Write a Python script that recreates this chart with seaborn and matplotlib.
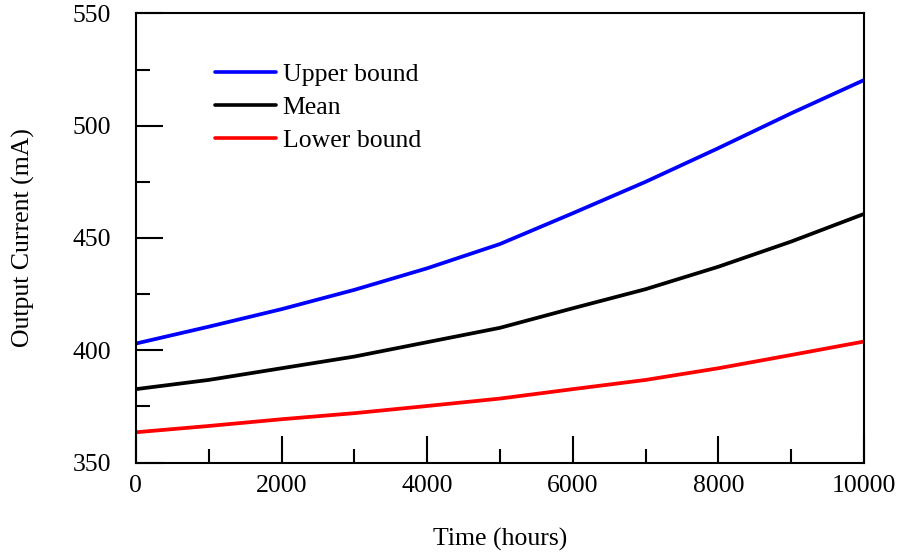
import numpy as np
import pandas as pd
import matplotlib
matplotlib.use('Agg')
import matplotlib.pyplot as plt
from matplotlib.ticker import MultipleLocator
import seaborn as sns

# Values
time_hours = [0, 1000, 2000, 3000, 4000, 5000, 6000, 7000, 8000, 9000, 10000]
upper_bound = [403.0, 410.5, 418.3, 426.9, 436.5, 447.3, 461.0, 475.0, 490.0, 505.5, 520.3]
mean_current = [382.7, 386.8, 392.0, 397.2, 403.6, 410.0, 418.7, 427.2, 437.2, 448.4, 460.7]
lower_bound = [363.5, 366.3, 369.3, 372.0, 375.2, 378.5, 382.7, 386.8, 392.0, 397.9, 403.9]
series_names = ['Upper bound', 'Mean', 'Lower bound']
series_colors = ['#0000ff', '#000000', '#ff0000']

sns.set_theme(style='white')
plt.rcParams['font.family'] = ['Liberation Serif', 'DejaVu Serif']
plt.rcParams['font.size'] = 18.5
plt.rcParams['text.color'] = 'black'
plt.rcParams['axes.labelcolor'] = 'black'
plt.rcParams['xtick.color'] = 'black'
plt.rcParams['ytick.color'] = 'black'

df = pd.DataFrame({
    'time': time_hours * 3,
    'current': upper_bound + mean_current + lower_bound,
    'series': [n for n in series_names for _ in time_hours],
})

fig = plt.figure(figsize=(9, 5.56), dpi=100)
ax = fig.add_axes([0.151, 0.168, 0.809, 0.808])

sns.lineplot(data=df, x='time', y='current', hue='series', hue_order=series_names,
             palette=series_colors, linewidth=2.7, ax=ax)

ax.set_xlim(0, 10000)
ax.set_ylim(350, 550)
ax.xaxis.set_major_locator(MultipleLocator(2000))
ax.xaxis.set_minor_locator(MultipleLocator(1000))
ax.yaxis.set_major_locator(MultipleLocator(50))
ax.yaxis.set_minor_locator(MultipleLocator(25))

for side in ['left', 'right', 'top', 'bottom']:
    ax.spines[side].set_color('black')
    ax.spines[side].set_linewidth(1.5)

ax.tick_params(which='both', direction='in', color='black', labelcolor='black', width=1.5,
               top=False, right=False, bottom=True, left=True, labelsize=18.5)
ax.tick_params(which='major', length=19.5)
ax.tick_params(which='minor', length=10)
ax.tick_params(axis='y', which='major', pad=18)
ax.tick_params(axis='x', which='major', pad=9)

ax.set_xlabel('Time (hours)', fontsize=18.5, labelpad=22, color='black')
ax.set_ylabel('Output Current (mA)', fontsize=18.5, labelpad=27, color='black')

leg = ax.legend(loc='upper left', bbox_to_anchor=(0.108, 0.89), frameon=False,
                borderpad=0, borderaxespad=0, handlelength=2.4, handletextpad=0.25,
                labelspacing=0.4, fontsize=18.5)
for line in leg.get_lines():
    line.set_linewidth(2.6)
for txt in leg.get_texts():
    txt.set_color('black')

plt.savefig('out.png', dpi=100)
plt.close()
